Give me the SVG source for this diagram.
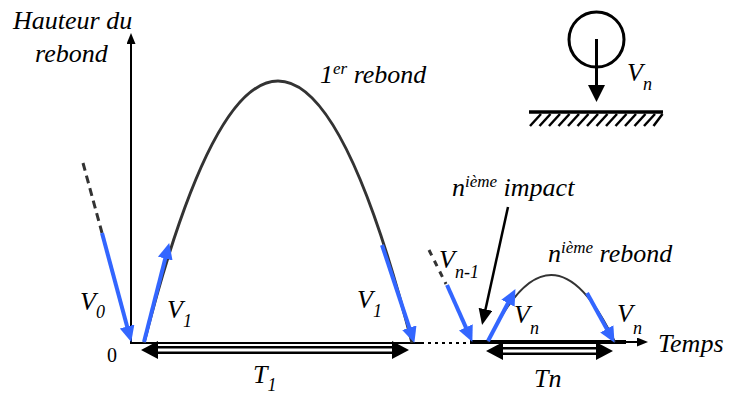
<svg xmlns="http://www.w3.org/2000/svg" width="731" height="394" viewBox="0 0 731 394">
<style>
.t{font-family:"Liberation Serif","Times New Roman","DejaVu Serif",serif;font-style:italic;font-size:26px;fill:#000}
.s{font-size:18px}
.up{font-size:17px}
.blue{stroke:#3366ff;stroke-width:4;fill:none}
.curve{stroke:#333;fill:none}
.ax{stroke:#000;stroke-width:2;fill:none}
</style>
<defs>
<marker id="ab" markerUnits="userSpaceOnUse" markerWidth="18" markerHeight="16" refX="5" refY="7.5" orient="auto"><path d="M0,0 L16,7.5 L0,15 z" fill="#3366ff"/></marker>
<marker id="ak" markerUnits="userSpaceOnUse" markerWidth="18" markerHeight="16" refX="6" refY="7" orient="auto"><path d="M0,0 L16,7 L0,14 z" fill="#000"/></marker>
<marker id="aa" markerUnits="userSpaceOnUse" markerWidth="12" markerHeight="10" refX="2" refY="4.5" orient="auto"><path d="M0,0 L11,4.5 L0,9 z" fill="#000"/></marker>
</defs>
<g id="axes">
<line class="ax" x1="131" y1="344" x2="131" y2="42" marker-end="url(#aa)"/>
<line class="ax" x1="130" y1="343" x2="421" y2="343"/>
<line class="ax" x1="421" y1="343" x2="470" y2="343" stroke-dasharray="3 4"/>
<line x1="470" y1="342" x2="626" y2="342" stroke="#000" stroke-width="4"/>
<line class="ax" x1="624" y1="342" x2="639" y2="342" marker-end="url(#aa)"/>
</g>
<g id="rebond1">
<path class="curve" stroke-width="3" d="M144,343 Q278,-181 412,343"/>
</g>
<g id="rebondn">
<path class="curve" stroke-width="2" d="M488,342 Q551,208 615,342"/>
</g>
<g id="connectors">
<line x1="83" y1="163" x2="102" y2="233" stroke="#333" stroke-width="3" stroke-dasharray="8 5"/>
<line x1="429" y1="250" x2="446" y2="284" stroke="#333" stroke-width="3" stroke-dasharray="6 6"/>
<line class="blue" x1="102" y1="233" x2="128.4" y2="331.3" marker-end="url(#ab)"/>
<line class="blue" x1="144" y1="342" x2="166.5" y2="253.7" marker-end="url(#ab)"/>
<line class="blue" x1="382" y1="245" x2="410.9" y2="332.5" marker-end="url(#ab)"/>
<line class="blue" x1="447" y1="285" x2="467.9" y2="331.9" marker-end="url(#ab)"/>
<line class="blue" x1="488" y1="341" x2="510.3" y2="298.8" marker-end="url(#ab)"/>
<line class="blue" x1="587" y1="293" x2="609.2" y2="333.2" marker-end="url(#ab)"/>
<line x1="508" y1="207" x2="484.2" y2="315.2" stroke="#000" stroke-width="2.5" marker-end="url(#ak)"/>
</g>
<g id="T1">
<line x1="155" y1="350" x2="395" y2="350" stroke="#000" stroke-width="8"/>
<line x1="155" y1="350" x2="395" y2="350" stroke="#fff" stroke-width="3"/>
<polygon points="141,350 158,341 158,359" fill="#000"/>
<polygon points="409,350 392,341 392,359" fill="#000"/>
<text class="t" x="253" y="383">T<tspan class="s" dy="8">1</tspan></text>
</g>
<g id="Tn">
<line x1="500" y1="351" x2="599" y2="351" stroke="#000" stroke-width="8"/>
<line x1="500" y1="351" x2="599" y2="351" stroke="#fff" stroke-width="3"/>
<polygon points="486,351 503,342 503,360" fill="#000"/>
<polygon points="613,351 596,342 596,360" fill="#000"/>
<text class="t" x="534" y="387" font-size="24">Tn</text>
</g>
<g id="inset">
<circle cx="596.5" cy="39.5" r="27.5" fill="none" stroke="#000" stroke-width="3"/>
<line x1="596.5" y1="39" x2="596.5" y2="88" stroke="#000" stroke-width="3"/>
<polygon points="588,85 605,85 596.5,102" fill="#000"/>
<line x1="529" y1="112" x2="663" y2="112" stroke="#000" stroke-width="3.5"/>
<g stroke="#000" stroke-width="2.5">
<line x1="530" y1="126" x2="541" y2="114"/><line x1="539.5" y1="126" x2="550.5" y2="114"/><line x1="549" y1="126" x2="560" y2="114"/><line x1="558.5" y1="126" x2="569.5" y2="114"/><line x1="568" y1="126" x2="579" y2="114"/><line x1="577.5" y1="126" x2="588.5" y2="114"/><line x1="587" y1="126" x2="598" y2="114"/><line x1="596.5" y1="126" x2="607.5" y2="114"/><line x1="606" y1="126" x2="617" y2="114"/><line x1="615.5" y1="126" x2="626.5" y2="114"/><line x1="625" y1="126" x2="636" y2="114"/><line x1="634.5" y1="126" x2="645.5" y2="114"/><line x1="644" y1="126" x2="655" y2="114"/><line x1="653.5" y1="126" x2="662.5" y2="114"/>
</g>
<text class="t" x="627" y="81">V<tspan class="s" dy="9">n</tspan></text>
</g>
<g id="labels">
<text class="t" x="13" y="29">Hauteur du</text>
<text class="t" x="35" y="62">rebond</text>
<text class="t" x="320" y="83">1<tspan class="up" dy="-9">er</tspan><tspan dy="9"> rebond</tspan></text>
<text class="t" x="452" y="196">n<tspan class="up" dy="-9">ième</tspan><tspan dy="9"> impact</tspan></text>
<text class="t" x="548" y="262">n<tspan class="up" dy="-9">ième</tspan><tspan dy="9"> rebond</tspan></text>
<text class="t" x="658" y="352">Temps</text>
<text x="107" y="362" font-family="'Liberation Serif','DejaVu Serif',serif" font-size="20">0</text>
<text class="t" x="80" y="310">V<tspan class="s" dy="8">0</tspan></text>
<text class="t" x="167" y="318">V<tspan class="s" dy="9">1</tspan></text>
<text class="t" x="357" y="308">V<tspan class="s" dy="9">1</tspan></text>
<text class="t" x="439" y="268">V<tspan class="s" dy="10">n-1</tspan></text>
<text class="t" x="514" y="323">V<tspan class="s" dy="11">n</tspan></text>
<text class="t" x="617" y="322">V<tspan class="s" dy="12">n</tspan></text>
</g>
</svg>
